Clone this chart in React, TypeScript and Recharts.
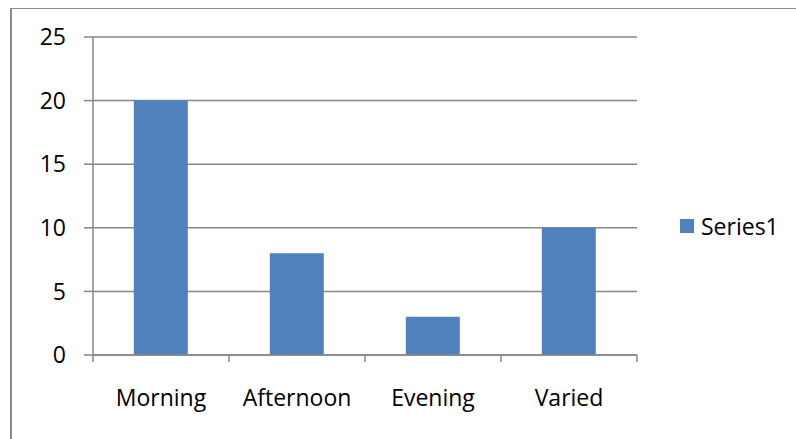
import React from "react";
import {
  BarChart,
  Bar,
  XAxis,
  YAxis,
  CartesianGrid,
  Legend,
} from "recharts";

const categories = ["Morning", "Afternoon", "Evening", "Varied"];
const series1 = [20, 8, 3, 10];
const yTicks = [0, 5, 10, 15, 20, 25];

const data = categories.map((name, i) => ({ name, Series1: series1[i] }));

const W = 796;
const H = 439;
const LEFT = 93;
const RIGHT = 159;
const TOP = 37;
const XAXIS_H = 84;
const HALF_BAND = (W - LEFT - RIGHT) / categories.length / 2;
const GRID = "#878787";
const BLUE = "#4f81bd";
const FONT = "'Open Sans', sans-serif";

// category ticks sit between the bars, labels under the bar centres
function CategoryTick(props: any) {
  const { x, y, payload, index } = props;
  return (
    <g>
      <line x1={x - HALF_BAND} y1={y} x2={x - HALF_BAND} y2={y + 7} stroke={GRID} strokeWidth={1.5} />
      {index === categories.length - 1 && (
        <line x1={x + HALF_BAND} y1={y} x2={x + HALF_BAND} y2={y + 7} stroke={GRID} strokeWidth={1.5} />
      )}
      <text x={x} y={y + 51} textAnchor="middle" fill="#000" fontSize={23} fontFamily={FONT}>
        {payload.value}
      </text>
    </g>
  );
}

function LegendBox() {
  return (
    <div style={{ display: "flex", alignItems: "center", fontFamily: FONT, fontSize: 23, color: "#000" }}>
      <span style={{ width: 14, height: 14, background: BLUE, display: "inline-block", marginRight: 7 }} />
      <span>Series1</span>
    </div>
  );
}

export default function App() {
  return (
    <div style={{ position: "absolute", left: 0, top: 0, width: W, height: H, background: "#fff", overflow: "hidden" }}>
      <div
        style={{
          position: "absolute",
          left: 10,
          top: 8,
          width: W,
          height: H,
          borderLeft: "2px solid #8a8a8a",
          borderTop: "1px solid #8a8a8a",
        }}
      />
      <BarChart
        width={W}
        height={H}
        data={data}
        margin={{ top: TOP, right: RIGHT, bottom: 0, left: 0 }}
        barCategoryGap="30%"
        style={{ position: "absolute", left: 0, top: 0 }}
      >
        <CartesianGrid vertical={false} stroke={GRID} strokeWidth={1.5} />
        <XAxis
          dataKey="name"
          height={XAXIS_H}
          interval={0}
          tickLine={false}
          tickSize={0}
          tickMargin={0}
          axisLine={{ stroke: GRID, strokeWidth: 1.5 }}
          tick={<CategoryTick />}
        />
        <YAxis
          width={LEFT}
          domain={[0, 25]}
          ticks={yTicks}
          interval={0}
          tickSize={9}
          tickMargin={18}
          axisLine={{ stroke: GRID, strokeWidth: 1.5 }}
          tickLine={{ stroke: GRID, strokeWidth: 1.5 }}
          tick={{ fill: "#000", fontSize: 23, fontFamily: FONT }}
        />
        <Legend
          layout="horizontal"
          align="center"
          verticalAlign="middle"
          content={<LegendBox />}
          wrapperStyle={{ left: 680, top: 210, width: 110 }}
        />
        <Bar dataKey="Series1" fill={BLUE} isAnimationActive={false} />
      </BarChart>
    </div>
  );
}
